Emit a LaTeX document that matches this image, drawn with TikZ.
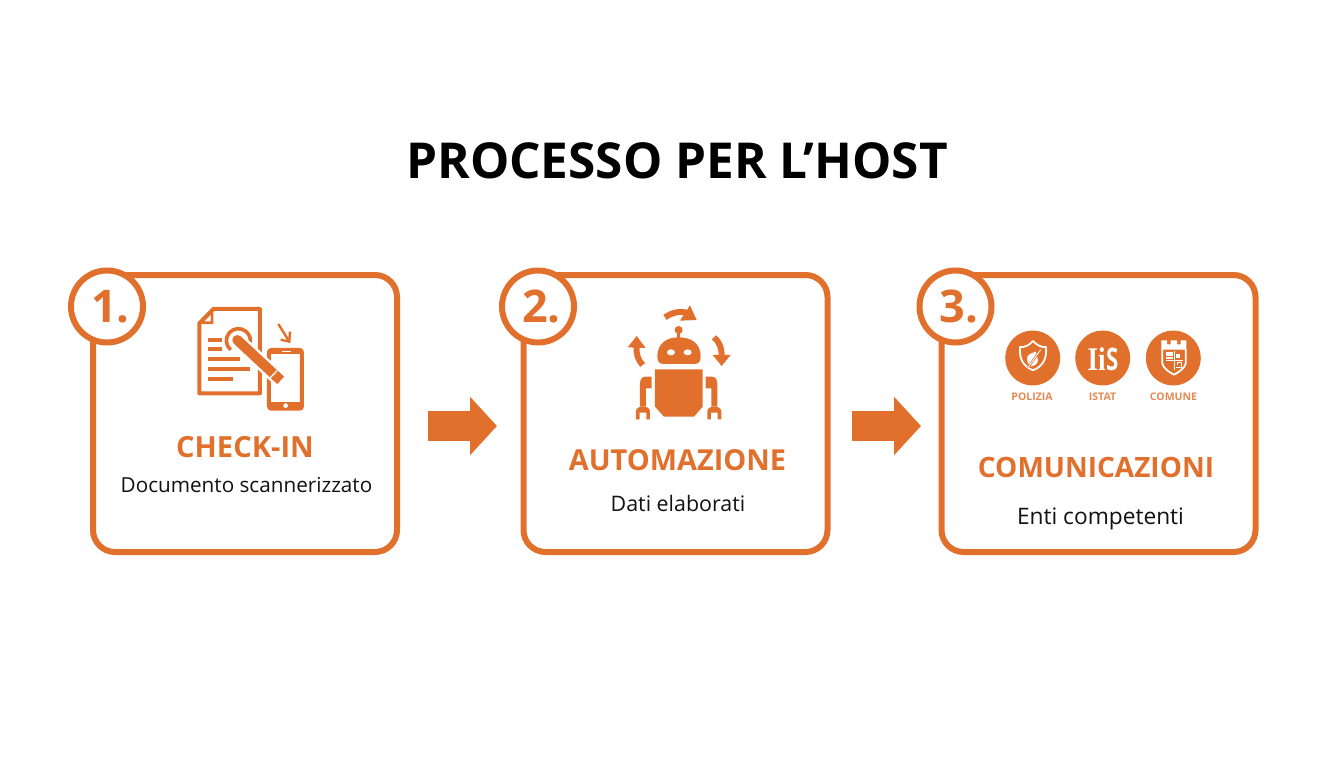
\documentclass[tikz,border=0pt]{standalone}
\usepackage{fontspec}
\setmainfont{Open Sans}
\newfontfamily\logofont{Liberation Serif}
\usetikzlibrary{arrows.meta}
\definecolor{orng}{HTML}{E2702D}
\definecolor{lorng}{HTML}{E58A55}
\definecolor{ink}{HTML}{111111}
\newcommand{\fsz}[1]{\fontsize{#1}{#1}\selectfont}
\tikzset{
  card/.style={draw=orng,line width=6pt,rounded corners=22pt,fill=white,inner sep=0pt,outer sep=0pt},
  badge/.style={circle,draw=orng,line width=6pt,fill=white,minimum size=72pt,inner sep=0pt,outer sep=0pt,text=orng,font=\fsz{45}\bfseries},
  head/.style={text=orng,font=\bfseries,inner sep=0pt},
  sub/.style={text=ink,inner sep=0pt},
  disc/.style={circle,fill=orng,minimum size=55pt,inner sep=0pt},
  tiny/.style={text=lorng,font=\fsz{10.5}\bfseries,inner sep=0pt},
  blockarrow/.style={orng,line width=30pt,-{Triangle[length=27pt,width=57pt]}},
  ico/.style={orng,line width=4pt},
  wline/.style={white,line width=1.8pt,line join=round}
}
\begin{document}
\begin{tikzpicture}[x=1pt,y=-1pt]
\useasboundingbox[fill=white] (0,0) rectangle (1344,768);
\node[text=black,font=\fsz{49.5}\bfseries,inner sep=0pt] (title) at (677,161) {PROCESSO PER L’HOST};
% cards
\node[card,minimum width=304pt,minimum height=277pt] (c1) at (245,413.5) {};
\node[card,minimum width=304pt,minimum height=277pt] (c2) at (675.5,413.5) {};
\node[card,minimum width=314pt,minimum height=277pt] (c3) at (1098.5,413.5) {};
\node[badge] (b1) at (107,306.5) {\kern7pt 1.};
\node[badge] (b2) at (538,306.5) {\kern7pt 2.};
\node[badge] (b3) at (955.5,306.5) {\kern7pt 3.};
% block arrows
\coordinate (a1s) at (428,426);\coordinate (a1e) at (497,426);
\coordinate (a2s) at (852,426);\coordinate (a2e) at (921,426);
\draw[blockarrow] (a1s) -- (a1e);
\draw[blockarrow] (a2s) -- (a2e);
% texts
\node[head,font=\fsz{29.1}\bfseries] (h1) at (245,447) {CHECK-IN};
\node[sub,font=\fsz{20.7}] (s1) at (246.5,485) {Documento scannerizzato};
\node[head,font=\fsz{28.9}\bfseries] (h2) at (677.5,460.5) {AUTOMAZIONE};
\node[sub,font=\fsz{21.4}] (s2) at (678,503) {Dati elaborati};
\node[head,font=\fsz{28}\bfseries] (h3) at (1096,467) {COMUNICAZIONI};
\node[sub,font=\fsz{22.7}] (s3) at (1100.5,519) {Enti competenti};
% document + phone icon (zoom coords)
\begin{scope}[shift={(60pt,-260pt)},x=0.3333pt,y=-0.3333pt]
  \draw[ico,line join=round] (460,147) -- (600,147) -- (600,400) -- (418,400) -- (418,190) -- cycle;
  \fill[orng] (460,147) -- (460,192) -- (416,192) -- cycle;
  \fill[white] (452,165) -- (452,184) -- (434,184) -- cycle;
  \foreach \yy/\xe in {240/485,268/485,298/540,327/570,356/518}
    \draw[orng,line width=4pt] (445,\yy) -- (\xe,\yy);
  % phone
  \fill[white] (612,255) rectangle (742,460);
  \draw[ico,rounded corners=2.5pt] (627,270) rectangle (726,446);
  \fill[orng] (627,270) rectangle (726,283);
  \fill[orng] (627,425) rectangle (726,446);
  \fill[white] (677,437) circle (7);
  \draw[white,line width=1pt] (667,274) -- (693,274);
  % small arrow
  \draw[orng,line width=2.4pt] (655,192) -- (685,240);
  \draw[orng,line width=2.4pt] (662,239) -- (688,245) -- (690,215);
  % ring and pen
  \draw[orng,line width=3.6pt] (512,269.6) arc[start angle=130,end angle=380,radius=36];
  \draw[white,line width=15pt,line cap=round] (532,240) -- (650,350);
  \draw[orng,line width=10pt,line cap=round] (532,240) -- (650,350);
  \draw[white,line width=5pt] (645,345) -- (668,366);
  \draw[orng,line width=10pt] (645,345) -- (662,361);
  \draw[white,line width=1.2pt] (630,354) -- (652,331);
\end{scope}
% robot icon
\begin{scope}[shift={(490pt,-260pt)},x=0.3333pt,y=-0.3333pt]
  \fill[orng] (566,210) circle (12);
  \fill[orng] (561,215) rectangle (571,236);
  \fill[orng] (520,312) .. controls (508,312) and (502,304) .. (502,290) .. controls (502,250) and (530,232) .. (566,232) .. controls (604,232) and (632,250) .. (632,290) .. controls (632,304) and (626,312) .. (614,312) -- cycle;
  \fill[white] (543,277) ellipse (12 and 9);
  \fill[white] (593,277) ellipse (12 and 9);
  \fill[orng] (495,328) -- (638,328) -- (638,440) -- (612,470) -- (522,470) -- (495,440) -- cycle;
  \foreach \m in {1,-1}{
  \begin{scope}[xshift=566*0.3333pt,xscale=\m]
    \fill[orng] (-81,350) -- (-100,350) .. controls (-112,350) and (-116,362) .. (-116,372) -- (-116,440) -- (-98,440) -- (-98,385) -- (-81,385) -- cycle;
    \fill[orng] (-128,478) -- (-128,455) .. controls (-128,445) and (-120,440) .. (-107,440) .. controls (-94,440) and (-86,445) .. (-86,455) -- (-86,478) -- (-97,478) -- (-97,458) -- (-117,458) -- (-117,478) -- cycle;
  \end{scope}}
  % arrows
  \draw[orng,line width=6pt] (525,172) .. controls (545,158) and (570,152) .. (590,158);
  \fill[orng] (600,136) -- (620,180) -- (570,182) -- cycle;
  \draw[orng,line width=6pt] (458,315) .. controls (445,300) and (438,285) .. (440,260);
  \fill[orng] (440,228) -- (467,264) -- (413,262) -- cycle;
  \draw[orng,line width=6pt] (672,232) .. controls (688,245) and (696,265) .. (695,290);
  \fill[orng] (668,285) -- (722,285) -- (695,318) -- cycle;
\end{scope}
% agency discs
\node[disc] (d1) at (1032.7,358) {};
\node[disc] (d2) at (1102.7,358) {};
\node[disc] (d3) at (1173.3,358) {};
\node[tiny] (t1) at (1032,397) {POLIZIA};
\node[tiny] (t2) at (1102.5,397) {ISTAT};
\node[tiny] (t3) at (1173.5,397) {COMUNE};
% police shield
\begin{scope}[shift={(1002pt,-327pt)},x=0.3333pt,y=-0.3333pt]
  \draw[wline] (54,60) .. controls (68,62) and (82,54) .. (93,42) .. controls (104,54) and (118,62) .. (132,60) .. controls (134,90) and (128,115) .. (93,130) .. controls (58,115) and (52,90) .. (54,60) -- cycle;
  \fill[white] (76,88) .. controls (84,80) and (92,76) .. (102,74) -- (108,100) .. controls (106,112) and (98,116) .. (88,118) .. controls (78,114) and (74,104) .. (76,88) -- cycle;
  \draw[orng,line width=2.2pt] (78,122) -- (116,68);
  \draw[white,line width=.8pt] (78,122) -- (116,68);
\end{scope}
% ISTAT logo
\node[anchor=base,text=white,inner sep=0pt] (logo) at (1103,370.3) {{\logofont\fsz{33}\bfseries\scalebox{.82}[1]{Ii}}\kern.5pt{\fsz{31}\bfseries\scalebox{.72}[1]{S}}};
% castle shield
\begin{scope}[shift={(1143pt,-327pt)},x=0.3333pt,y=-0.3333pt]
  \fill[white] (55,40) -- (72,40) -- (72,52) -- (83,52) -- (83,40) -- (102,40) -- (102,52) -- (113,52) -- (113,40) -- (130,40) -- (130,68) -- (55,68) -- cycle;
  \draw[wline] (58,66) -- (58,110) .. controls (62,125) and (78,135) .. (93,143) .. controls (108,135) and (124,125) .. (128,110) -- (128,66);
  \fill[white] (68,76) rectangle (90,97);
  \draw[white,line width=1pt] (93,72) -- (93,130);
  \draw[white,line width=1pt] (68,100) -- (120,100);
  \fill[white] (100,80) rectangle (112,92);
  \draw[white,line width=1pt] (100,122) -- (114,122) -- (114,108) -- (104,108) -- (104,114);
  \draw[orng,line width=1pt] (68,88) -- (90,88);
\end{scope}
\end{tikzpicture}
\end{document}
